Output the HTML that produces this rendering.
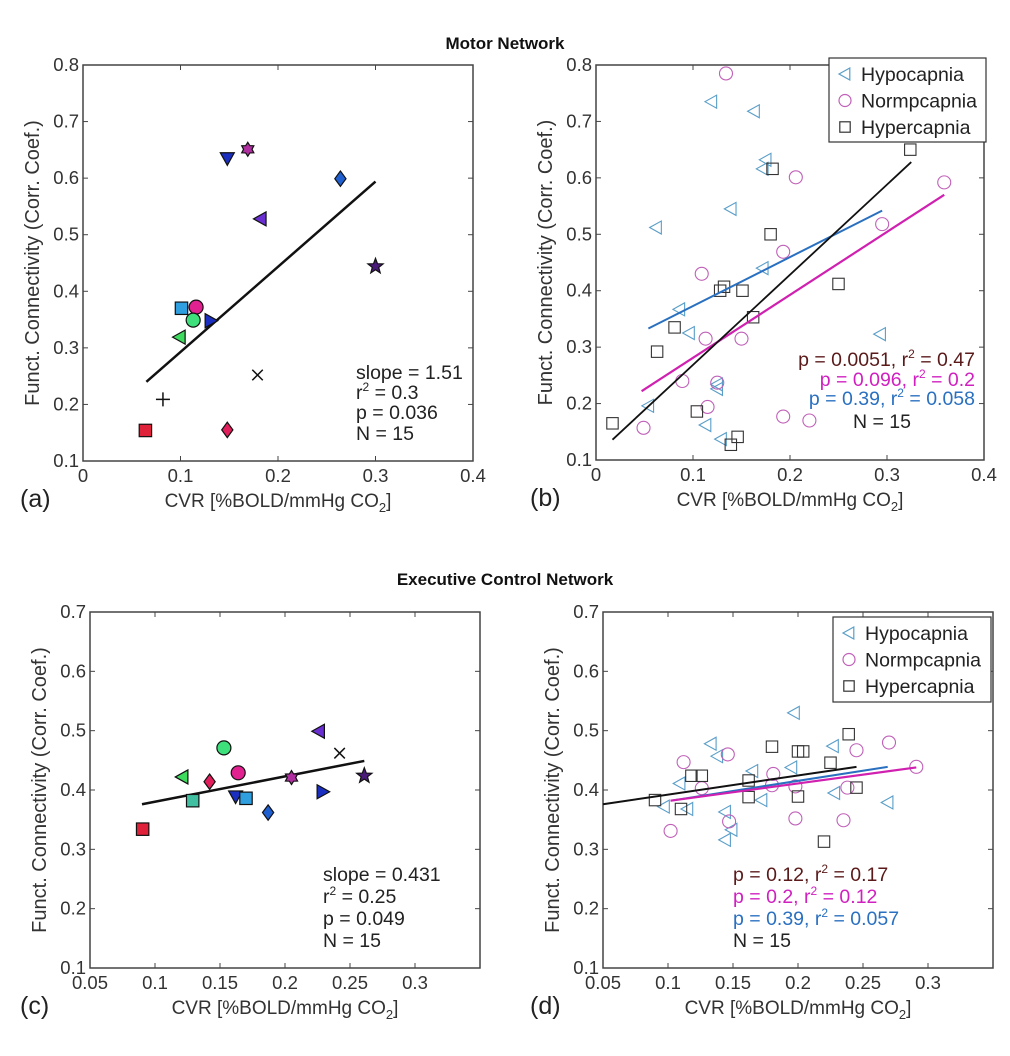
<!DOCTYPE html>
<html><head><meta charset="utf-8"><style>
body{margin:0;background:#fff;width:1010px;height:1056px;overflow:hidden}
svg{display:block}
text{font-family:"Liberation Sans",sans-serif}
</style></head><body>
<svg id="fig" width="1010" height="1056" viewBox="0 0 1010 1056" xmlns="http://www.w3.org/2000/svg">
<text x="505" y="49" text-anchor="middle" font-size="17" font-weight="bold" fill="#111">Motor Network</text>
<text x="505" y="585" text-anchor="middle" font-size="17" font-weight="bold" fill="#111">Executive Control Network</text>
</svg>
<script>
// ---------- Panel (a) data ----------
const aX=[0.064,0.082,0.099,0.101,0.116,0.113,0.131,0.148,0.148,0.169,0.182,0.179,0.264,0.300];
const aY=[0.154,0.209,0.319,0.370,0.372,0.349,0.348,0.635,0.155,0.651,0.528,0.252,0.599,0.444];
const aFit=[[0.065,0.240],[0.300,0.594]];
// ---------- Panel (c) data ----------
const cX=[0.0905,0.121,0.129,0.153,0.142,0.164,0.162,0.170,0.187,0.205,0.226,0.242,0.229,0.261];
const cY=[0.334,0.422,0.382,0.471,0.414,0.429,0.389,0.386,0.362,0.421,0.499,0.462,0.397,0.424];
const cFit=[[0.090,0.376],[0.261,0.449]];
// ---------- Panel (b) data ----------
const bHypoX=[0.119,0.163,0.175,0.172,0.139,0.062,0.172,0.086,0.096,0.293,0.125,0.125,0.054,0.113,0.129];
const bHypoY=[0.735,0.718,0.632,0.616,0.545,0.512,0.440,0.367,0.325,0.323,0.234,0.226,0.196,0.162,0.137];
const bNormX=[0.134,0.206,0.359,0.295,0.193,0.109,0.113,0.150,0.089,0.125,0.115,0.049,0.193,0.220];
const bNormY=[0.785,0.601,0.592,0.518,0.469,0.430,0.315,0.315,0.240,0.237,0.194,0.157,0.177,0.170];
const bHyperX=[0.324,0.182,0.180,0.250,0.132,0.128,0.151,0.162,0.081,0.063,0.104,0.017,0.146,0.139];
const bHyperY=[0.650,0.616,0.500,0.412,0.407,0.400,0.400,0.353,0.335,0.292,0.186,0.165,0.141,0.127];
const bFitHyper=[[0.017,0.136],[0.325,0.628]];
const bFitNorm=[[0.047,0.222],[0.359,0.570]];
const bFitHypo=[[0.054,0.333],[0.295,0.542]];
// ---------- Panel (d) data ----------
const dHypoX=[0.197,0.133,0.138,0.227,0.195,0.165,0.109,0.097,0.115,0.172,0.228,0.269,0.144,0.149,0.144];
const dHypoY=[0.530,0.478,0.457,0.474,0.438,0.432,0.411,0.372,0.368,0.383,0.395,0.379,0.363,0.333,0.316];
const dNormX=[0.270,0.245,0.146,0.112,0.291,0.181,0.126,0.180,0.198,0.238,0.147,0.198,0.102,0.235];
const dNormY=[0.480,0.467,0.460,0.447,0.439,0.427,0.403,0.408,0.406,0.404,0.347,0.352,0.331,0.349];
const dHyperX=[0.239,0.180,0.200,0.204,0.118,0.126,0.225,0.162,0.245,0.090,0.110,0.162,0.200,0.220];
const dHyperY=[0.494,0.473,0.465,0.465,0.424,0.424,0.446,0.416,0.404,0.383,0.368,0.388,0.389,0.313];
const dFitHyper=[[0.05,0.376],[0.245,0.439]];
const dFitHypo=[[0.102,0.382],[0.269,0.439]];
const dFitNorm=[[0.102,0.382],[0.291,0.438]];
// ticks
const ticksX1=[0,0.1,0.2,0.3,0.4];
const ticksY1=[0.1,0.2,0.3,0.4,0.5,0.6,0.7,0.8];
const ticksX2=[0.05,0.1,0.15,0.2,0.25,0.3];
const ticksY2=[0.1,0.2,0.3,0.4,0.5,0.6,0.7];

const NS="http://www.w3.org/2000/svg";
const svg=document.getElementById('fig');
function el(tag,attrs,parent){const e=document.createElementNS(NS,tag);for(const k in attrs)e.setAttribute(k,attrs[k]);(parent||svg).appendChild(e);return e;}

function makeAxes(p){
  const g=el('g',{});
  
  
  p.sx=v=>p.L+(v-p.x0)/(p.x1-p.x0)*(p.R-p.L);
  p.sy=v=>p.B-(v-p.y0)/(p.y1-p.y0)*(p.B-p.T);
  p.g=g;
  const fr=el('rect',{x:p.L,y:p.T,width:p.R-p.L,height:p.B-p.T,fill:'none',stroke:'#444','stroke-width':1.5},g);
  
  
  p.xt.forEach(v=>{const x=p.sx(v);
    el('line',{x1:x,x2:x,y1:p.B,y2:p.B-5,stroke:'#444'},g);
    el('line',{x1:x,x2:x,y1:p.T,y2:p.T+5,stroke:'#444'},g);
    const t=el('text',{x:x,y:p.B+21,'text-anchor':'middle','font-size':18.5,fill:'#333'},g);
    t.textContent=String(v);
    
    
  });
  p.yt.forEach(v=>{const y=p.sy(v);
    el('line',{x1:p.L,x2:p.L+5,y1:y,y2:y,stroke:'#444'},g);
    el('line',{x1:p.R,x2:p.R-5,y1:y,y2:y,stroke:'#444'},g);
    const t=el('text',{x:p.L-4,y:y+6,'text-anchor':'end','font-size':18.5,fill:'#333'},g);
    t.textContent=String(v);
    
    
  });
  const yt=el('text',{x:0,y:0,'text-anchor':'middle','font-size':20,fill:'#333',transform:`translate(${p.L-44},${(p.T+p.B)/2}) rotate(-90)`},g);
  yt.textContent='Funct. Connectivity (Corr. Coef.)';
  
  
  const xt=el('text',{x:(p.L+p.R)/2,y:p.B+46,'text-anchor':'middle','font-size':19,fill:'#333'},g);
  xt.innerHTML='CVR [%BOLD/mmHg CO<tspan font-size="13" dy="5">2</tspan><tspan dy="-5">]</tspan>';
  
  
  const pl=el('text',{x:p.lx,y:p.B+46,'font-size':25,fill:'#222'},g);
  pl.textContent=p.label;
  
  
  return p;
}

function marker(g,type,x,y,r,fill,stroke,sw){
  let e;
  const s={fill:fill,stroke:stroke,'stroke-width':sw||1.2};
  const poly=pts=>el('polygon',Object.assign({points:pts.map(q=>q.join(',')).join(' ')},s),g);
  if(type==='sq'){e=el('rect',Object.assign({x:x-r+0.8,y:y-r+0.8,width:2*r-1.6,height:2*r-1.6},s),g);}
  else if(type==='o'){e=el('circle',Object.assign({cx:x,cy:y,r:r},s),g);}
  else if(type==='<'){e=poly([[x-r,y],[x+r*0.8,y-r],[x+r*0.8,y+r]]);}
  else if(type==='>'){e=poly([[x+r,y],[x-r*0.8,y-r],[x-r*0.8,y+r]]);}
  else if(type==='v'){e=poly([[x,y+r],[x-r,y-r*0.8],[x+r,y-r*0.8]]);}
  else if(type==='d'){e=poly([[x,y-r*1.1],[x+r*0.8,y],[x,y+r*1.1],[x-r*0.8,y]]);}
  else if(type==='+'){e=el('path',{d:`M${x-r} ${y}H${x+r}M${x} ${y-r}V${y+r}`,stroke:'#111','stroke-width':1.5,fill:'none'},g);}
  else if(type==='x'){const k=r*0.75;e=el('path',{d:`M${x-k} ${y-k}L${x+k} ${y+k}M${x-k} ${y+k}L${x+k} ${y-k}`,stroke:'#111','stroke-width':1.5,fill:'none'},g);}
  else if(type==='h'){const pts=[];for(let i=0;i<12;i++){const a=-Math.PI/2+i*Math.PI/6;const rr=i%2?r*0.6:r;pts.push([x+rr*Math.cos(a),y+rr*Math.sin(a)]);}e=poly(pts);}
  else if(type==='p'){const pts=[];for(let i=0;i<10;i++){const a=-Math.PI/2+i*Math.PI/5;const rr=i%2?r*0.42:r;pts.push([x+rr*Math.cos(a),y+rr*Math.sin(a)]);}e=poly(pts);}
  return e;
}

function fitLine(p,f,color,w){
  const l=el('line',{x1:p.sx(f[0][0]),y1:p.sy(f[0][1]),x2:p.sx(f[1][0]),y2:p.sy(f[1][1]),stroke:color,'stroke-width':w||2},p.g);
  
  
}

function statText(p,lines){
  lines.forEach(o=>{
    const t=el('text',{x:o.x,y:o.y,'font-size':19.5,fill:o.c||'#222','text-anchor':o.a||'start'},p.g);
    t.innerHTML=o.t;
    
    
  });
}
const R2=v=>'r<tspan font-size="12" dy="-8">2</tspan><tspan dy="8"> = '+v+'</tspan>';

function legend(p,x,y,w,h){
  const g=el('g',{},p.g);
  
  
  el('rect',{x:x,y:y,width:w,height:h,fill:'#fff',stroke:'#333','stroke-width':1.2},g);
  const ent=[['<','#5a9ec8','Hypocapnia'],['o','#c060b8','Normpcapnia'],['sq','#333','Hypercapnia']];
  ent.forEach((e,i)=>{
    const yy=y+16+i*26.5;
    marker(g,e[0],x+16,yy,6,'none',e[1],1.2);
    const t=el('text',{x:x+32,y:yy+7,'font-size':19.5,fill:'#222'},g);
    t.textContent=e[2];
    
    
  });
}

// ----- Panel a -----
const pa=makeAxes({name:'panel-a-motor-scatter',L:83,R:473,T:65,B:461,x0:0,x1:0.4,y0:0.1,y1:0.8,xt:ticksX1,yt:ticksY1,label:'(a)',lx:20});
fitLine(pa,aFit,'#111',2.5);
const aType=['sq','+','<','sq','o','o','>','v','d','h','<','x','d','p'];
const aCol=['#e0213a','#111','#3ddc5e','#2f9fe0','#e0218f','#3de07a','#1a2fc0','#1a2fc0','#e01f5c','#b02fa0','#6a2fd0','#111','#1f5fd0','#4a1a7a'];
aX.forEach((v,i)=>{const m=marker(pa.g,aType[i],pa.sx(v),pa.sy(aY[i]),aType[i]==='p'?8:7,aCol[i],'#111',1.2);
  
  });
statText(pa,[{x:356,y:379,t:'slope = 1.51'},{x:356,y:399,t:R2('0.3')},{x:356,y:419,t:'p = 0.036'},{x:356,y:440,t:'N = 15'}]);

// ----- Panel b -----
const pb=makeAxes({name:'panel-b-motor-conditions',L:596,R:984,T:65,B:460,x0:0,x1:0.4,y0:0.1,y1:0.8,xt:ticksX1,yt:ticksY1,label:'(b)',lx:530});
function openSeries(p,xs,ys,type,col,name){xs.forEach((v,i)=>{const m=marker(p.g,type,p.sx(v),p.sy(ys[i]),6.5,'none',col,1.1);
  
  });}
openSeries(pb,bHypoX,bHypoY,'<','#5a9ec8','hypocapnia-point');
openSeries(pb,bNormX,bNormY,'o','#c060b8','normocapnia-point');
openSeries(pb,bHyperX,bHyperY,'sq','#333','hypercapnia-point');
fitLine(pb,bFitHypo,'#2a70c0',2);
fitLine(pb,bFitNorm,'#d020b0',2.2);
fitLine(pb,bFitHyper,'#111',1.8);
legend(pb,829,58,157,84);
statText(pb,[{x:975,y:366,a:'end',c:'#5a1a1a',t:'p = 0.0051, '+R2('0.47')},{x:975,y:386,a:'end',c:'#d020c0',t:'p = 0.096, '+R2('0.2')},{x:975,y:405,a:'end',c:'#2a70c0',t:'p = 0.39, '+R2('0.058')},{x:853,y:428,t:'N = 15'}]);

// ----- Panel c -----
const pc=makeAxes({name:'panel-c-executive-scatter',L:90,R:480,T:612,B:968,x0:0.05,x1:0.35,y0:0.1,y1:0.7,xt:ticksX2,yt:ticksY2,label:'(c)',lx:20});
fitLine(pc,cFit,'#111',2.5);
const cType=['sq','<','sq','o','d','o','v','sq','d','h','<','x','>','p'];
const cCol=['#e0213a','#3ddc5e','#40c0a0','#3de07a','#e01f5c','#e0218f','#1a2fc0','#2f9fe0','#1f5fd0','#b02fa0','#6a2fd0','#111','#1a2fc0','#4a1a7a'];
cX.forEach((v,i)=>{const m=marker(pc.g,cType[i],pc.sx(v),pc.sy(cY[i]),cType[i]==='p'?8:7,cCol[i],'#111',1.2);
  
  });
statText(pc,[{x:323,y:881,t:'slope = 0.431'},{x:323,y:903,t:R2('0.25')},{x:323,y:925,t:'p = 0.049'},{x:323,y:947,t:'N = 15'}]);

// ----- Panel d -----
const pd=makeAxes({name:'panel-d-executive-conditions',L:603,R:993,T:612,B:968,x0:0.05,x1:0.35,y0:0.1,y1:0.7,xt:ticksX2,yt:ticksY2,label:'(d)',lx:530});
openSeries(pd,dHypoX,dHypoY,'<','#5a9ec8','hypocapnia-point');
openSeries(pd,dNormX,dNormY,'o','#c060b8','normocapnia-point');
openSeries(pd,dHyperX,dHyperY,'sq','#333','hypercapnia-point');
fitLine(pd,dFitHypo,'#2a70c0',2);
fitLine(pd,dFitNorm,'#d020b0',2.2);
fitLine(pd,dFitHyper,'#111',2);
legend(pd,833,617,158,85);
statText(pd,[{x:733,y:881,c:'#5a1a1a',t:'p = 0.12, '+R2('0.17')},{x:733,y:903,c:'#d020c0',t:'p = 0.2, '+R2('0.12')},{x:733,y:925,c:'#2a70c0',t:'p = 0.39, '+R2('0.057')},{x:733,y:947,t:'N = 15'}]);
</script>
</body></html>
